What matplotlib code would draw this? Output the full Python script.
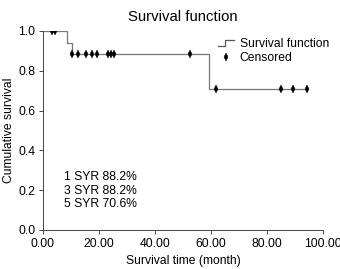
import numpy as np
import matplotlib
matplotlib.use('Agg')
import matplotlib.pyplot as plt
from matplotlib.legend_handler import HandlerBase
from matplotlib.lines import Line2D

plt.rcParams['font.family'] = ['Liberation Sans', 'DejaVu Sans']

#Kaplan-Meier step curve
step_times = [0, 8.5, 10.5, 59.4, 100]
step_surv = [1.0, 0.941, 0.882, 0.706, 0.706]
step_end = 94.2

#Censored observations
cens_times = [3.3, 4.3, 10.5, 12.4, 15.4, 17.4, 19.4, 23.3, 24.3, 25.4, 52.7, 61.8, 85.0, 89.2, 94.2]
cens_surv = [1.0, 1.0, 0.882, 0.882, 0.882, 0.882, 0.882, 0.882, 0.882, 0.882, 0.882, 0.706, 0.706, 0.706, 0.706]

xticks = [0, 20, 40, 60, 80, 100]
yticks = [0.0, 0.2, 0.4, 0.6, 0.8, 1.0]
summary = ['1 SYR 88.2%', '3 SYR 88.2%', '5 SYR 70.6%']

fs = 8.7


class StepHandler(HandlerBase):
	def create_artists(self, legend, orig, xd, yd, w, h, fontsize, trans):
		xs = [xd, xd + w*0.45, xd + w*0.45, xd + w]
		ys = [yd + h*0.15, yd + h*0.15, yd + h*0.8, yd + h*0.8]
		ln = Line2D(xs, ys, color='#555555', lw=0.9, transform=trans)
		return [ln]


fig = plt.figure(figsize=(3.4, 2.69), dpi=100)
ax = fig.add_axes([0.126, 0.145, 0.824, 0.74])

#step curve, stop at the last observation
t = [x for x in step_times if x < step_end] + [step_end]
s = step_surv[:len(t)-1] + [step_surv[len(t)-2]]
curve, = ax.step(t, s, where='post', color='#777777', lw=0.9)
cens, = ax.plot(cens_times, cens_surv, linestyle='none', marker='d', color='black',
	markersize=3.8, markeredgewidth=0.3)

ax.text(7.5, 0.295, '\n'.join(summary), fontsize=fs, va='top', ha='left', linespacing=1.15)

ax.set_xlim(0, 100)
ax.set_ylim(0, 1.0)
ax.set_xticks(xticks)
ax.set_xticklabels(['%.2f' % x for x in xticks])
ax.set_yticks(yticks)
ax.set_yticklabels(['%.1f' % y for y in yticks])
ax.tick_params(labelsize=fs, direction='out', length=3, width=0.7, color='#444444', pad=2.5)
for sp in ['top', 'right']:
	ax.spines[sp].set_visible(False)
for sp in ['left', 'bottom']:
	ax.spines[sp].set_linewidth(0.7)
	ax.spines[sp].set_color('#444444')

ax.set_xlabel('Survival time (month)', fontsize=fs, labelpad=4)
ax.set_ylabel('Cumulative survival', fontsize=fs, labelpad=2)
ax.set_title('Survival function', fontsize=10.7, pad=7)

ax.legend([curve, cens], ['Survival function', 'Censored'], handler_map={curve: StepHandler()},
	loc='upper left', bbox_to_anchor=(218/340, 1-38/269), bbox_transform=fig.transFigure,
	frameon=False, fontsize=fs, handlelength=1.3, handletextpad=0.5, labelspacing=0.2,
	borderpad=0, borderaxespad=0)

fig.savefig('out.png', dpi=100)
